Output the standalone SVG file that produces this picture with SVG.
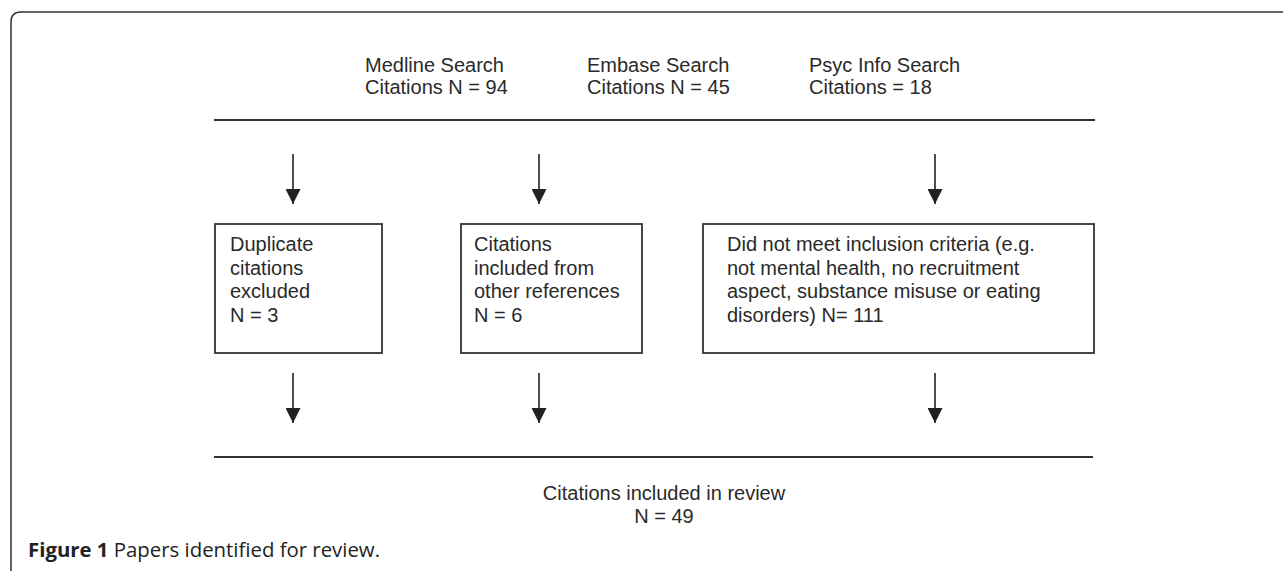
<svg xmlns="http://www.w3.org/2000/svg" width="1283" height="571" viewBox="0 0 1283 571">
<style>
.t{font-family:"Liberation Sans",Arial,sans-serif;font-size:20px;fill:#2a2a2a}
.box{fill:#fff;stroke:#333;stroke-width:1.8}
.rule{stroke:#333;stroke-width:2;fill:none}
.arr{stroke:#222;stroke-width:1.6;fill:none}
.cap{font-family:"Open Sans","Noto Sans",sans-serif;font-size:20px;fill:#222}
</style>
<defs>
<marker id="ah2" viewBox="0 0 15 15" refX="15" refY="7.5" markerWidth="15" markerHeight="15" markerUnits="userSpaceOnUse" orient="auto">
<path d="M0,0 L15,7.5 L0,15 Z" fill="#222"/>
</marker>
</defs>
<rect width="1283" height="571" fill="#fff"/>
<path d="M11 571 V22 Q11 12 21 12 H1283" fill="none" stroke="#333" stroke-width="1.5"/>
<g id="sources">
<text class="t" x="365" y="71.5">Medline Search</text>
<text class="t" x="365" y="94">Citations N = 94</text>
<text class="t" x="587" y="71.5">Embase Search</text>
<text class="t" x="587" y="94">Citations N = 45</text>
<text class="t" x="809" y="71.5">Psyc Info Search</text>
<text class="t" x="809" y="94">Citations = 18</text>
</g>
<g id="top-rule"><line class="rule" x1="214" y1="120" x2="1095" y2="120"/></g>
<g id="box-duplicates">
<rect class="box" x="215" y="224" width="167" height="129"/>
<text class="t" x="230" y="251">Duplicate</text>
<text class="t" x="230" y="274.5">citations</text>
<text class="t" x="230" y="298">excluded</text>
<text class="t" x="230" y="321.5">N = 3</text>
</g>
<g id="box-other-refs">
<rect class="box" x="461" y="224" width="181" height="129"/>
<text class="t" x="474" y="251">Citations</text>
<text class="t" x="474" y="274.5">included from</text>
<text class="t" x="474" y="298">other references</text>
<text class="t" x="474" y="321.5">N = 6</text>
</g>
<g id="box-not-met">
<rect class="box" x="703" y="224" width="391" height="129"/>
<text class="t" x="727" y="251">Did not meet inclusion criteria (e.g.</text>
<text class="t" x="727" y="274.5">not mental health, no recruitment</text>
<text class="t" x="727" y="298">aspect, substance misuse or eating</text>
<text class="t" x="727" y="321.5">disorders) N= 111</text>
</g>
<g id="bottom-rule"><line class="rule" x1="214" y1="457" x2="1093" y2="457"/></g>
<g id="result">
<text class="t" x="664" y="500" text-anchor="middle">Citations included in review</text>
<text class="t" x="664" y="523" text-anchor="middle">N = 49</text>
</g>
<g id="connectors">
<line class="arr" x1="293" y1="154" x2="293" y2="204" marker-end="url(#ah2)"/>
<line class="arr" x1="539" y1="154" x2="539" y2="204" marker-end="url(#ah2)"/>
<line class="arr" x1="935" y1="154" x2="935" y2="204" marker-end="url(#ah2)"/>
<line class="arr" x1="293" y1="373" x2="293" y2="423" marker-end="url(#ah2)"/>
<line class="arr" x1="539" y1="373" x2="539" y2="423" marker-end="url(#ah2)"/>
<line class="arr" x1="935" y1="373" x2="935" y2="423" marker-end="url(#ah2)"/>
</g>
<text class="cap" x="28" y="557" textLength="352" lengthAdjust="spacingAndGlyphs"><tspan font-weight="bold">Figure 1</tspan> Papers identified for review.</text>
</svg>
